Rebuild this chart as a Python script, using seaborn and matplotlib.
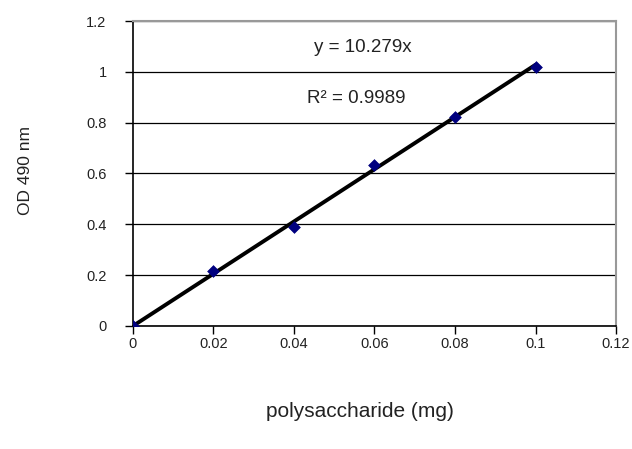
import numpy as np
import pandas as pd
import matplotlib
matplotlib.use("Agg")
import matplotlib.pyplot as plt
import seaborn as sns

# standard curve readings
conc = [0, 0.02, 0.04, 0.06, 0.08, 0.1]
od = [0.0, 0.215, 0.39, 0.632, 0.823, 1.02]
slope = 10.279
r2 = 0.9989

df = pd.DataFrame({"conc": conc, "od": od})
df["fit"] = slope * df["conc"]

sns.set_style("white")
plt.rcParams["font.family"] = ["Liberation Sans", "DejaVu Sans"]

fig = plt.figure(figsize=(6.32, 4.49), dpi=100)
ax = fig.add_axes([0.2104, 0.274, 0.7643, 0.6792])

ax.yaxis.grid(True, color="black", linewidth=0.9)
ax.set_axisbelow(True)
sns.lineplot(data=df, x="conc", y="fit", ax=ax, color="black", linewidth=2.8, zorder=2)
sns.scatterplot(data=df, x="conc", y="od", ax=ax, marker="D", s=36, color="#00007f",
                edgecolor="#00007f", zorder=3)

ax.set_xlim(0, 0.12)
ax.set_ylim(0, 1.2)
ax.set_xticks(np.arange(0, 0.121, 0.02))
ax.set_xticklabels(["0", "0.02", "0.04", "0.06", "0.08", "0.1", "0.12"])
ax.set_yticks(np.arange(0, 1.21, 0.2))
ax.set_yticklabels(["0", "0.2", "0.4", "0.6", "0.8", "1", "1.2"])
ax.tick_params(axis="both", direction="out", length=6, width=1, color="black",
               labelsize=10.5, labelcolor="#222222", bottom=True, left=True)
ax.tick_params(axis="x", pad=2)
ax.tick_params(axis="y", pad=13)

for s in ["left", "bottom"]:
    ax.spines[s].set_color("black")
    ax.spines[s].set_linewidth(1.2)
for s in ["top", "right"]:
    ax.spines[s].set_color("#999999")
    ax.spines[s].set_linewidth(1.5)

ax.set_xlabel("polysaccharide (mg)", fontsize=15, color="#222222")
ax.set_ylabel("OD 490 nm", fontsize=12.5, color="#222222")
ax.xaxis.set_label_coords(0.47, -0.249)
ax.yaxis.set_label_coords(-0.207, 0.509)

ax.text(0.0572, 1.095, "y = 10.279x", fontsize=13.5, color="#222222", ha="center", va="center")
ax.text(0.0555, 0.897, "R\u00b2 = 0.9989", fontsize=13.5, color="#222222", ha="center", va="center")

fig.savefig("out.png", dpi=100)
